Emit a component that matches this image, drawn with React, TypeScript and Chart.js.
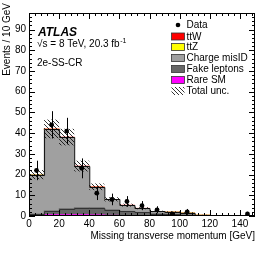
import React, { useEffect, useRef } from "react";
import { Chart, registerables } from "chart.js";
Chart.register(...registerables);

// Bin centres of the 10 GeV bins (0-150 GeV)
const binCenters = [5, 15, 25, 35, 45, 55, 65, 75, 85, 95, 105, 115, 125, 135, 145];
// Observed data
const dataCounts = [22, 44, 41, 23, 11, 8, 7, 5, 3, 1, 2, 0, 0, 0, 1];
const dataErrors = [4.7, 6.6, 6.4, 4.8, 3.3, 2.8, 2.6, 2.2, 1.7, 1.0, 1.4, 0, 0, 0, 1.0];
// Stacked backgrounds (bottom to top)
const rareSM = [0.3, 0.7, 0.7, 0.7, 0.6, 0.4, 0.3, 0.2, 0.15, 0.1, 0.1, 0.05, 0.05, 0.03, 0.03];
const fakeLeptons = [0.7, 1.8, 2.9, 3.3, 3.4, 2.6, 2.0, 1.6, 1.0, 0.9, 0.6, 0.2, 0.1, 0.1, 0.1];
const chargeMisID = [18.9, 39.3, 34.2, 19.8, 9.8, 4.8, 2.8, 1.8, 1.0, 0.9, 0.8, 0.2, 0.1, 0.05, 0.15];
const ttZ = [0.03, 0.1, 0.1, 0.1, 0.1, 0.1, 0.05, 0.05, 0.03, 0.02, 0.02, 0.01, 0.01, 0.01, 0.01];
const ttW = [0.05, 0.15, 0.2, 0.2, 0.2, 0.15, 0.1, 0.1, 0.05, 0.05, 0.05, 0.02, 0.02, 0.01, 0.01];
// Total uncertainty on the prediction
const totalUnc = [2.2, 4.5, 4.0, 2.6, 1.6, 1.0, 0.7, 0.5, 0.35, 0.3, 0.25, 0.1, 0.08, 0.06, 0.08];

const xTickLabels = [0, 20, 40, 60, 80, 100, 120, 140];
const yTickLabels = [0, 10, 20, 30, 40, 50, 60, 70, 80, 90];
const X_MAX = 150;
const Y_MAX = 98;
const BIN_W = 10;

const FONT = "'Liberation Sans', Arial, Helvetica, sans-serif";

function makeHatch(ctx: CanvasRenderingContext2D) {
  const c = document.createElement("canvas");
  c.width = 4;
  c.height = 4;
  const g = c.getContext("2d")!;
  g.strokeStyle = "#000";
  g.lineWidth = 0.8;
  g.beginPath();
  g.moveTo(-1, -1);
  g.lineTo(5, 5);
  g.moveTo(-1, 3);
  g.lineTo(1, 5);
  g.moveTo(3, -1);
  g.lineTo(5, 1);
  g.stroke();
  return ctx.createPattern(c, "repeat")!;
}

export default function App() {
  const ref = useRef<HTMLCanvasElement>(null);
  useEffect(() => {
    const canvas = ref.current!;
    const ctx0 = canvas.getContext("2d")!;
    const hatch = makeHatch(ctx0);

    const stacks = [rareSM, fakeLeptons, chargeMisID, ttZ, ttW];
    const cumulative = (n: number) =>
      binCenters.map((_, i) => stacks.slice(0, n).reduce((s, a) => s + a[i], 0));

    const atlasPlugin = {
      id: "atlas",
      afterDatasetDraw(chart: any, args: any) {
        if (args.index !== 1) return;
        const { ctx, scales } = chart;
        const xs = scales.x;
        const ys = scales.y;
        const area = chart.chartArea;
        ctx.save();
        ctx.beginPath();
        ctx.rect(area.left, area.top, area.right - area.left, area.bottom - area.top);
        ctx.clip();
        // step outlines
        const drawStep = (vals: number[], color: string) => {
          ctx.beginPath();
          ctx.strokeStyle = color;
          ctx.lineWidth = 1;
          ctx.moveTo(xs.getPixelForValue(0), ys.getPixelForValue(0));
          vals.forEach((v, i) => {
            const x0 = xs.getPixelForValue(binCenters[i] - BIN_W / 2);
            const x1 = xs.getPixelForValue(binCenters[i] + BIN_W / 2);
            const py = Math.round(ys.getPixelForValue(v)) + 0.5;
            ctx.lineTo(x0 + 0.5, py);
            ctx.lineTo(x1 + 0.5, py);
          });
          ctx.lineTo(xs.getPixelForValue(X_MAX), ys.getPixelForValue(0));
          ctx.stroke();
        };
        drawStep(cumulative(1), "#333");
        drawStep(cumulative(2), "#333");
        drawStep(cumulative(5), "#111");
        // hatched uncertainty band
        const tot = cumulative(5);
        ctx.fillStyle = hatch;
        tot.forEach((t, i) => {
          const x0 = xs.getPixelForValue(binCenters[i] - BIN_W / 2);
          const x1 = xs.getPixelForValue(binCenters[i] + BIN_W / 2);
          const yTop = ys.getPixelForValue(t + totalUnc[i]);
          const yBot = ys.getPixelForValue(Math.max(0, t - totalUnc[i]));
          ctx.fillRect(x0, yTop, x1 - x0, yBot - yTop);
        });
        // data error bars
        ctx.strokeStyle = "#000";
        ctx.lineWidth = 1;
        dataCounts.forEach((d, i) => {
          if (d <= 0) return;
          const px = Math.round(xs.getPixelForValue(binCenters[i])) + 0.5;
          ctx.beginPath();
          ctx.moveTo(px, ys.getPixelForValue(d + dataErrors[i]));
          ctx.lineTo(px, ys.getPixelForValue(Math.max(0, d - dataErrors[i])));
          ctx.stroke();
        });
        ctx.restore();
      },
      afterDraw(chart: any) {
        const { ctx, scales } = chart;
        const xs = scales.x;
        const ys = scales.y;
        const a = chart.chartArea;
        ctx.save();
        // frame
        ctx.strokeStyle = "#000";
        ctx.lineWidth = 1;
        ctx.strokeRect(a.left + 0.5, a.top + 0.5, a.right - a.left - 1, a.bottom - a.top - 1);
        // ticks
        ctx.beginPath();
        for (let v = 0; v <= X_MAX; v += 4) {
          const px = Math.round(xs.getPixelForValue(v)) + 0.5;
          const len = v % 20 === 0 ? 6 : 3;
          ctx.moveTo(px, a.bottom);
          ctx.lineTo(px, a.bottom - len);
          ctx.moveTo(px, a.top);
          ctx.lineTo(px, a.top + len);
        }
        for (let v = 0; v <= Y_MAX; v += 2) {
          const py = Math.round(ys.getPixelForValue(v)) + 0.5;
          const len = v % 10 === 0 ? 6 : 3;
          ctx.moveTo(a.left, py);
          ctx.lineTo(a.left + len, py);
          ctx.moveTo(a.right, py);
          ctx.lineTo(a.right - len, py);
        }
        ctx.stroke();

        // axis titles
        ctx.fillStyle = "#000";
        ctx.font = `10px ${FONT}`;
        ctx.textAlign = "right";
        ctx.textBaseline = "alphabetic";
        ctx.fillText("Missing transverse momentum [GeV]", a.right, 239);
        ctx.save();
        ctx.translate(9.5, 3);
        ctx.rotate(-Math.PI / 2);
        ctx.textAlign = "right";
        ctx.fillText("Events / 10 GeV", 0, 0);
        ctx.restore();

        // ATLAS label
        ctx.textAlign = "left";
        ctx.font = `italic bold 12px ${FONT}`;
        ctx.fillText("ATLAS", 38, 36);
        ctx.font = `10px ${FONT}`;
        const s1 = "\u221As = 8 TeV, 20.3 fb";
        ctx.fillText(s1, 37, 47);
        const w1 = ctx.measureText(s1).width;
        ctx.font = `7px ${FONT}`;
        ctx.fillText("-1", 37 + w1 + 0.5, 43);
        ctx.font = `10px ${FONT}`;
        ctx.fillText("2e-SS-CR", 37, 66);

        // legend
        const rows: [string, string][] = [
          ["Data", "data"],
          ["ttW", "#ff0000"],
          ["ttZ", "#ffff00"],
          ["Charge misID", "#a0a0a0"],
          ["Fake leptons", "#666666"],
          ["Rare SM", "#ff00ff"],
          ["Total unc.", "hatch"],
        ];
        const rowY = [25, 36.5, 47, 58, 69, 80, 91];
        rows.forEach(([label, kind], i) => {
          const cy = rowY[i];
          if (kind === "data") {
            ctx.beginPath();
            ctx.fillStyle = "#000";
            ctx.arc(178, cy, 2.3, 0, Math.PI * 2);
            ctx.fill();
          } else if (kind === "hatch") {
            ctx.fillStyle = hatch;
            ctx.fillRect(171.5, cy - 4, 13, 8);
          } else {
            ctx.fillStyle = kind;
            ctx.fillRect(171.5, cy - 3.5, 13, 7);
            ctx.strokeStyle = "#333";
            ctx.lineWidth = 0.8;
            ctx.strokeRect(171.5, cy - 3.5, 13, 7);
          }
          ctx.fillStyle = "#000";
          ctx.font = `10px ${FONT}`;
          ctx.textBaseline = "middle";
          ctx.fillText(label, 186.5, cy + 0.5);
          ctx.textBaseline = "alphabetic";
        });
        ctx.restore();
      },
    };

    const bar = (label: string, vals: number[], color: string) => ({
      type: "bar" as const,
      label,
      data: binCenters.map((x, i) => ({ x, y: vals[i] })),
      backgroundColor: color,
      borderWidth: 0,
      barPercentage: 1,
      categoryPercentage: 1,
    });

    const chart = new Chart(canvas, {
      type: "bar",
      data: {
        datasets: [
          {
            type: "scatter",
            label: "Data",
            data: binCenters
              .map((x, i) => ({ x, y: dataCounts[i] }))
              .filter((p) => p.y > 0),
            pointRadius: 2.4,
            pointBackgroundColor: "#000",
            pointBorderWidth: 0,
            borderColor: "#000",
          } as any,
          bar("Rare SM", rareSM, "#ff00ff"),
          bar("Fake leptons", fakeLeptons, "#666666"),
          bar("Charge misID", chargeMisID, "#a0a0a0"),
          bar("ttZ", ttZ, "#ffff00"),
          bar("ttW", ttW, "#ff0000"),
        ],
      },
      options: {
        animation: false,
        responsive: false,
        devicePixelRatio: 1,
        layout: { padding: { top: 13, right: 15, left: 0, bottom: 0 } },
        plugins: { legend: { display: false }, tooltip: { enabled: false } },
        scales: {
          x: {
            type: "linear",
            min: 0,
            max: X_MAX,
            stacked: true,
            offset: false,
            grid: { display: false, drawTicks: false },
            border: { display: false },
            ticks: {
              stepSize: 20,
              padding: 2,
              color: "#000",
              font: { family: FONT, size: 10 },
              maxRotation: 0,
            },
            afterBuildTicks: (s: any) => {
              s.ticks = xTickLabels.map((v) => ({ value: v }));
            },
            afterFit: (s: any) => {
              s.height = 43;
            },
          },
          y: {
            type: "linear",
            min: 0,
            max: Y_MAX,
            stacked: true,
            grid: { display: false, drawTicks: false },
            border: { display: false },
            ticks: {
              stepSize: 10,
              padding: 3,
              color: "#000",
              font: { family: FONT, size: 10 },
            },
            afterBuildTicks: (s: any) => {
              s.ticks = yTickLabels.map((v) => ({ value: v }));
            },
            afterFit: (s: any) => {
              s.width = 29;
            },
          },
        },
      } as any,
      plugins: [atlasPlugin],
    });
    return () => chart.destroy();
  }, []);

  return (
    <div style={{ position: "fixed", left: 0, top: 0, width: 270, height: 259, background: "#fff" }}>
      <canvas ref={ref} width={270} height={259} />
    </div>
  );
}
